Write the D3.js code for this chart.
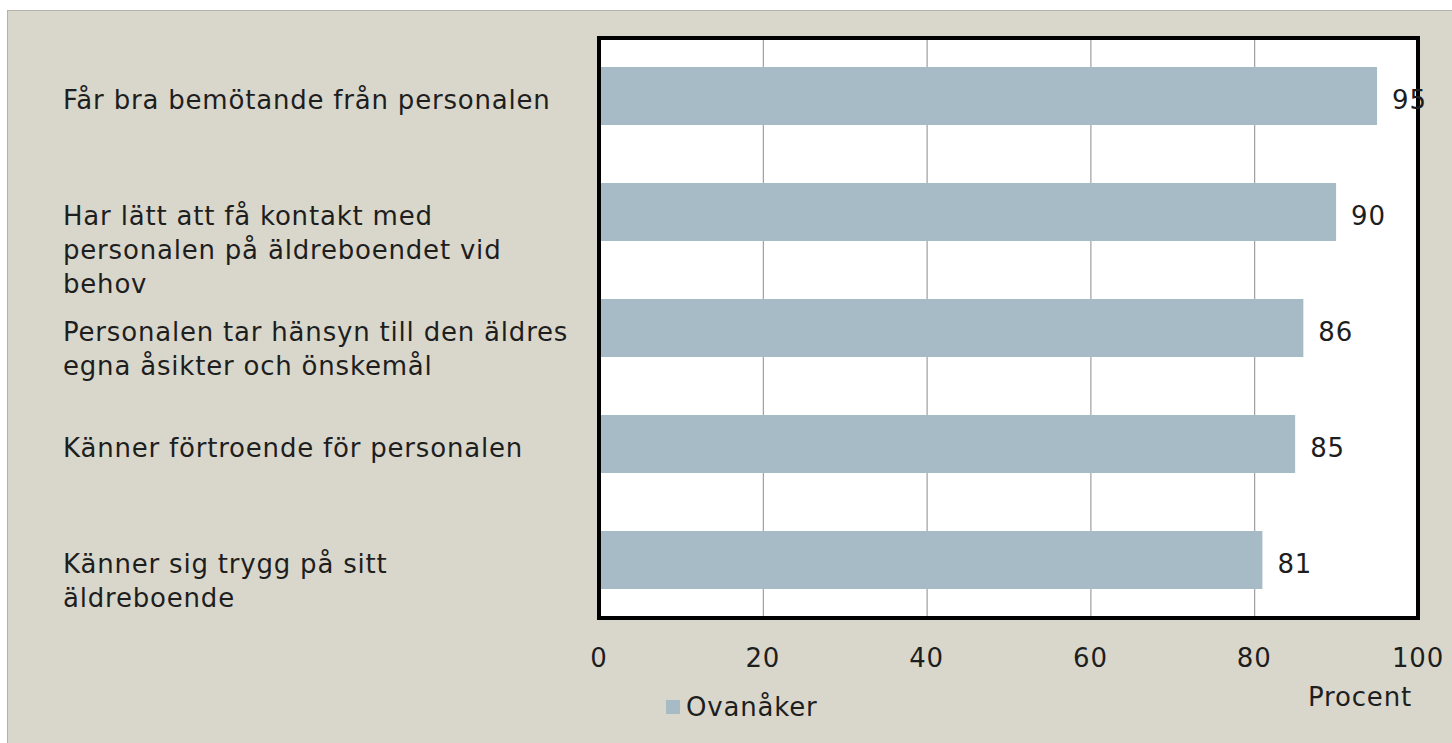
<!DOCTYPE html>
<html>
<head>
<meta charset="utf-8">
<script src="https://cdn.jsdelivr.net/npm/d3@7.9.0/dist/d3.min.js"></script>
<style>
  html, body { margin: 0; padding: 0; background: #fff; }
  svg { display: block; }
  text { font-family: "DejaVu Sans", sans-serif; fill: #1e1e1e; letter-spacing: 0.8px; }
</style>
</head>
<body>
<svg id="chart" width="1452" height="743"></svg>
<script>
// chart data
const categories = [
  ["Får bra bemötande från personalen"],
  ["Har lätt att få kontakt med", "personalen på äldreboendet vid", "behov"],
  ["Personalen tar hänsyn till den äldres", "egna åsikter och önskemål"],
  ["Känner förtroende för personalen"],
  ["Känner sig trygg på sitt", "äldreboende"],
];
const values = [95, 90, 86, 85, 81];
const xTicks = [0, 20, 40, 60, 80, 100];
const seriesName = "Ovanåker";
const axisTitle = "Procent";

const svg = d3.select("#chart");
const fontSize = 26;

// panel background
svg.append("rect")
  .attr("x", 7.5).attr("y", 10.5)
  .attr("width", 1452).attr("height", 740)
  .attr("fill", "#d9d7cb")
  .attr("stroke", "#b4b2aa")
  .attr("stroke-width", 1);

const plot = { left: 599, right: 1418, top: 38, bottom: 618 };

const x = d3.scaleLinear().domain([0, 100]).range([plot.left, plot.right]);
const y = d3.scaleBand()
  .domain(d3.range(values.length))
  .range([plot.top, plot.bottom])
  .paddingInner(0.5)
  .paddingOuter(0.25);

// plot area
svg.append("rect")
  .attr("x", plot.left).attr("y", plot.top)
  .attr("width", plot.right - plot.left).attr("height", plot.bottom - plot.top)
  .attr("fill", "#fff");

// gridlines
svg.append("g")
  .selectAll("line")
  .data(xTicks.filter((d) => d > 0 && d < 100))
  .join("line")
  .attr("x1", (d) => x(d) + 0.5).attr("x2", (d) => x(d) + 0.5)
  .attr("y1", plot.top).attr("y2", plot.bottom)
  .attr("stroke", "#8c8c8c")
  .attr("stroke-width", 1);

// bars
svg.append("g")
  .selectAll("rect")
  .data(values)
  .join("rect")
  .attr("x", x(0))
  .attr("y", (d, i) => y(i))
  .attr("width", (d) => x(d) - x(0))
  .attr("height", y.bandwidth())
  .attr("fill", "#a7bbc6");

// frame
svg.append("rect")
  .attr("x", plot.left).attr("y", plot.top)
  .attr("width", plot.right - plot.left).attr("height", plot.bottom - plot.top)
  .attr("fill", "none")
  .attr("stroke", "#000")
  .attr("stroke-width", 4);

// value labels
svg.append("g")
  .selectAll("text")
  .data(values)
  .join("text")
  .attr("x", (d) => x(d) + 15)
  .attr("y", (d, i) => y(i) + y.bandwidth() / 2 + 13)
  .attr("font-size", fontSize)
  .text((d) => d);

// category labels
const catLabels = svg.append("g")
  .selectAll("text")
  .data(categories)
  .join("text")
  .attr("x", 63)
  .attr("y", (d, i) => y(i) + y.bandwidth() / 2 + 13)
  .attr("font-size", fontSize);

catLabels.selectAll("tspan")
  .data((d) => d)
  .join("tspan")
  .attr("x", 63)
  .attr("dy", (d, j) => (j === 0 ? 0 : 34))
  .text((d) => d);

// x axis tick labels
svg.append("g")
  .selectAll("text")
  .data(xTicks)
  .join("text")
  .attr("x", (d) => x(d))
  .attr("y", 667)
  .attr("text-anchor", "middle")
  .attr("font-size", fontSize)
  .text((d) => d);

// axis title
svg.append("text")
  .attr("x", 1360)
  .attr("y", 706)
  .attr("text-anchor", "middle")
  .attr("font-size", fontSize)
  .text(axisTitle);

// legend
svg.append("rect")
  .attr("x", 666).attr("y", 700)
  .attr("width", 14).attr("height", 14)
  .attr("fill", "#a7bbc6");

svg.append("text")
  .attr("x", 686)
  .attr("y", 716)
  .attr("font-size", fontSize)
  .text(seriesName);
</script>
</body>
</html>
